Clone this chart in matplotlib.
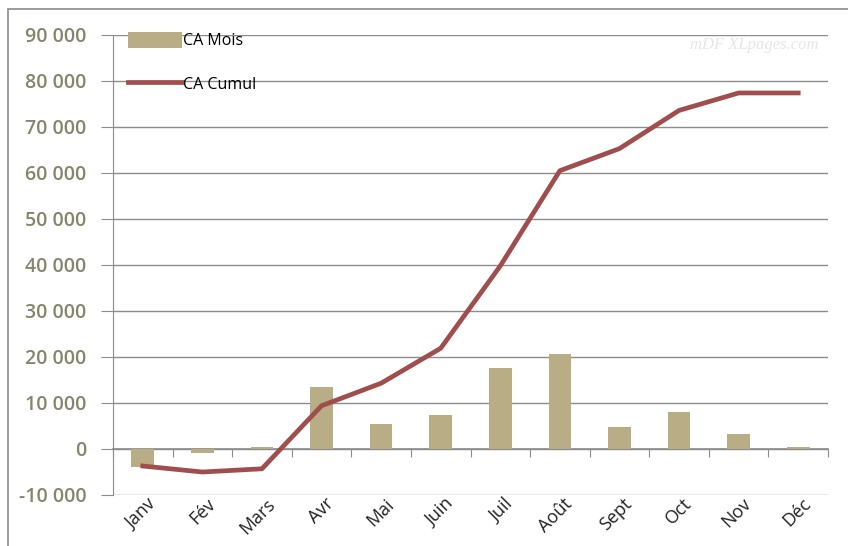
import numpy as np
import matplotlib.pyplot as plt
from matplotlib.patches import Rectangle
from matplotlib.ticker import FuncFormatter

mois = ['Janv', 'Fév', 'Mars', 'Avr', 'Mai', 'Juin', 'Juil', 'Août', 'Sept', 'Oct', 'Nov', 'Déc']
ca_mois = [-3900, -900, 400, 13400, 5500, 7400, 17600, 20600, 4800, 8100, 3200, 400]
ca_cumul = [-3700, -5000, -4300, 9400, 14300, 21900, 39800, 60500, 65300, 73600, 77400, 77400]
y_ticks = np.arange(-10000, 90001, 10000)

bar_col = '#b8ad84'
line_col = '#a04e4d'
grid_col = '#8c8c8c'

plt.rcParams['font.family'] = ['Open Sans', 'DejaVu Sans']

fig = plt.figure(figsize=(8.48, 5.46), dpi=100)
ax = fig.add_axes([113/848, 51/546, 715/848, 460/546])

x = np.arange(len(mois))
bars = ax.bar(x, ca_mois, width=0.38, color=bar_col, label='CA Mois', zorder=2)
line, = ax.plot(x, ca_cumul, color=line_col, lw=3.4, label='CA Cumul', zorder=3,
                solid_joinstyle='round')

ax.set_xlim(-0.5, len(mois) - 0.5)
ax.set_ylim(-10000, 90000)
ax.set_yticks(y_ticks)
ax.yaxis.set_major_formatter(FuncFormatter(lambda v, p: f'{int(v):,}'.replace(',', ' ')))
ax.yaxis.grid(True, color=grid_col, lw=1.0, zorder=1)
ax.set_axisbelow(True)

for s in ['top', 'right', 'bottom']:
    ax.spines[s].set_visible(False)
ax.spines['left'].set_color(grid_col)
ax.tick_params(axis='y', length=9, color=grid_col, labelsize=14,
               labelcolor='#85856c', pad=10)
for t in ax.get_yticklabels():
    t.set_fontweight('semibold')

ax.set_xticks(x)
ax.set_xticklabels(mois, rotation=45, ha='right', va='center', rotation_mode='anchor',
                   fontsize=13, color='#222222')
ax.tick_params(axis='x', length=0, pad=6)
for t in ax.get_xticklabels():
    t.set_transform(t.get_transform() + plt.matplotlib.transforms.ScaledTranslation(
        0.1, 0.02, fig.dpi_scale_trans))

# zero line with category ticks
zero = ax.secondary_xaxis(0.1)
zero.set_xticks(np.arange(len(mois) + 1) - 0.5)
zero.set_xticklabels([])
zero.spines['bottom'].set_color(grid_col)
zero.spines['bottom'].set_linewidth(1.2)
zero.tick_params(axis='x', direction='out', length=6, color=grid_col)

leg = ax.legend([bars, line], ['CA Mois', 'CA Cumul'], loc='upper left',
                bbox_to_anchor=(0.012, 1.021), frameon=False,
                fontsize=11.5, handlelength=3.4, handleheight=1.2, handletextpad=0.05,
                labelspacing=1.65, borderaxespad=0)

fig.text(690/848, 1 - 45/546, 'mDF XLpages.com', ha='left', va='center', fontsize=12,
         style='italic', color='#e6e6e6', family='Liberation Serif')

# outer chart frame
fig.patches.append(Rectangle((8/848, -0.1), 1.2, 1 - 9/546 + 0.1, transform=fig.transFigure,
                             fill=False, ec='#8c8c8c', lw=1.2))

fig.savefig('out.png', dpi=100)
